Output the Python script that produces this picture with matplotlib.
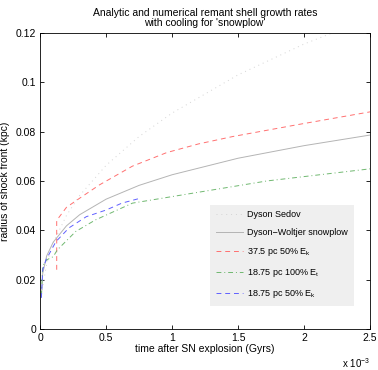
import numpy as np
import matplotlib.pyplot as plt
from matplotlib.ticker import FixedLocator, FuncFormatter

plt.rcParams['font.family'] = ['Liberation Sans', 'DejaVu Sans']
plt.rcParams['mathtext.fontset'] = 'custom'
plt.rcParams['mathtext.rm'] = 'Liberation Sans'
plt.rcParams['mathtext.it'] = 'Liberation Sans'

# time in units of 1e-3 Gyr, radius in kpc
t_sedov = [0.01, 0.05, 0.1, 0.2, 0.3, 0.5, 0.75, 1.0, 1.5, 2.0, 2.5]
r_sedov = [0.0139, 0.0264, 0.0349, 0.046, 0.0541, 0.0663, 0.078, 0.0875, 0.103, 0.1155, 0.126]

t_snow = [0.01, 0.02, 0.05, 0.1, 0.2, 0.3, 0.5, 0.75, 1.0, 1.5, 2.0, 2.5]
r_snow = [0.013, 0.0225, 0.0296, 0.0352, 0.0418, 0.0463, 0.0526, 0.0582, 0.0625, 0.0692, 0.0743, 0.0786]

t_red = [0.126, 0.126, 0.2, 0.3, 0.45, 0.7, 0.96, 1.2, 1.46, 1.97, 2.5]
r_red = [0.024, 0.044, 0.0493, 0.053, 0.0584, 0.066, 0.0715, 0.075, 0.078, 0.083, 0.088]

t_green = [0.01, 0.02, 0.05, 0.1, 0.13, 0.27, 0.42, 0.7, 1.21, 1.72, 2.5]
r_green = [0.0135, 0.0255, 0.028, 0.0293, 0.032, 0.0395, 0.0442, 0.051, 0.0555, 0.060, 0.0649]

t_blue = [0.01, 0.02, 0.045, 0.12, 0.22, 0.35, 0.5, 0.62, 0.76]
r_blue = [0.0126, 0.024, 0.028, 0.0354, 0.041, 0.0455, 0.0482, 0.051, 0.053]

fig = plt.figure(figsize=(3.78, 3.70), dpi=100)
ax = fig.add_axes([0.106, 0.111, 0.873, 0.800])

ax.plot(t_sedov, r_sedov, color='#d4d4d4', lw=0.7, dashes=(1, 4), label='Dyson Sedov')
ax.plot(t_snow, r_snow, '-', color='#b4b4b4', lw=0.7, label='Dyson\u2212Woltjer snowplow')
ax.plot(t_red, r_red, color='#ff7070', lw=0.7, dashes=(5, 4), label='37.5 pc 50% E$_k$')
ax.plot(t_green, r_green, color='#70b870', lw=0.7, dashes=(5, 3, 1, 3), label='18.75 pc 100% E$_t$')
ax.plot(t_blue, r_blue, color='#6060ff', lw=0.7, dashes=(5, 4), label='18.75 pc 50% E$_k$')

ax.set_xlim(0, 2.5)
ax.set_ylim(0, 0.12)
ax.xaxis.set_major_locator(FixedLocator([0, 0.5, 1, 1.5, 2, 2.5]))
ax.yaxis.set_major_locator(FixedLocator([0, 0.02, 0.04, 0.06, 0.08, 0.1, 0.12]))
ax.xaxis.set_major_formatter(FuncFormatter(lambda v, p: '%g' % v))
ax.yaxis.set_major_formatter(FuncFormatter(lambda v, p: '%g' % v))
ax.tick_params(direction='in', top=True, right=True, labelsize=7.5, length=3, width=0.6, pad=3)
for s in ax.spines.values():
    s.set_linewidth(0.6)

ax.set_xlabel('time after SN explosion (Gyrs)', fontsize=7.5, labelpad=1)
ax.set_ylabel('radius of shock front (kpc)', fontsize=7.5, labelpad=4)
ax.set_title("Analytic and numerical remant shell growth rates\nwith cooling for 'snowplow'",
             fontsize=7.5, pad=5, linespacing=1.05)
ax.text(1.0, -0.092, 'x 10$^{-3}$', transform=ax.transAxes, fontsize=7, ha='right', va='top')

leg = ax.legend(loc='lower right', bbox_to_anchor=(0.95, 0.078), fontsize=6.5,
                facecolor='#efefef', edgecolor='none', framealpha=1, fancybox=False,
                handlelength=3.0, labelspacing=1.0, borderpad=0.6, handletextpad=0.5,
                borderaxespad=0)

fig.savefig('out.png', dpi=100)
